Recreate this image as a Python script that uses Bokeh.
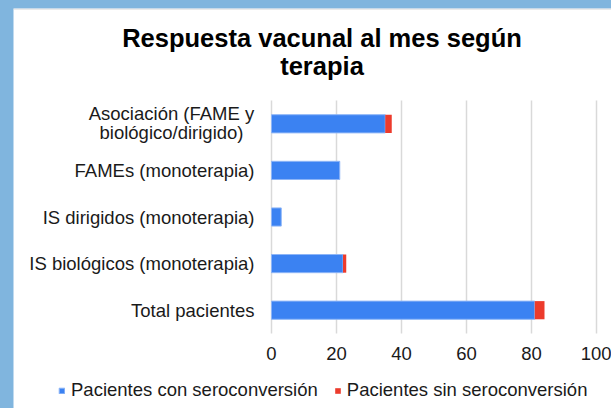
from bokeh.plotting import figure
from bokeh.models import ColumnDataSource, Range1d, FixedTicker, Legend, LegendItem, Label, Span
from bokeh.embed import file_html
from bokeh.resources import INLINE

# ---- data ----
categories = [
    "Total pacientes",
    "IS biológicos (monoterapia)",
    "IS dirigidos (monoterapia)",
    "FAMEs (monoterapia)",
    "Asociación (FAME y biológico/dirigido)",
]
wrapped_label = ["Asociación (FAME y", "biológico/dirigido)"]
con_seroconversion = [81, 22, 3, 21, 35]
sin_seroconversion = [3, 1, 0, 0, 2]
x_ticks = [0, 20, 40, 60, 80, 100]
title_lines = ["Respuesta vacunal al mes según", "terapia"]
series_names = ["Pacientes con seroconversión", "Pacientes sin seroconversión"]

# ---- style / layout constants (page pixels) ----
FONT = "Liberation Sans"
BLUE = "#3B82F2"
RED = "#EC3B2C"
GRID = "#D9D9D9"
TXT = "#1A1A1A"
FRAME_BLUE = "#80B5DE"
PAGE_LEFT, PAGE_TOP = 13, 8
W, H = 611 - PAGE_LEFT, 408 - PAGE_TOP
X0_PX, X_SCALE = 271.0, 3.25       # page x of value 0, px per unit
YTOP_PX, Y_SCALE = 100.0, 46.6     # page y of top band edge, px per category


def to_x(px):
    return (px - X0_PX) / X_SCALE


def to_y(py):
    return (len(categories) - 0.5) - (py - YTOP_PX) / Y_SCALE


idx = list(range(len(categories)))
src = ColumnDataSource(dict(
    y=idx,
    con=con_seroconversion,
    total=[a + b for a, b in zip(con_seroconversion, sin_seroconversion)],
))

p = figure(width=W, height=H, margin=(PAGE_TOP, 0, 0, PAGE_LEFT),
           x_range=Range1d(to_x(PAGE_LEFT), to_x(611)),
           y_range=Range1d(to_y(408), to_y(PAGE_TOP)),
           output_backend="svg", toolbar_location=None,
           min_border_left=0, min_border_right=0,
           min_border_top=0, min_border_bottom=0)
p.outline_line_color = None
p.background_fill_color = "white"
p.border_fill_color = "white"
p.xgrid.visible = False
p.ygrid.visible = False

# top shadow line of the chart area
p.add_layout(Span(location=to_y(PAGE_TOP + 0.5), dimension="width",
                  line_color="#D6D6D6", line_width=1))

# vertical gridlines over the category band
p.segment(x0=x_ticks, x1=x_ticks, y0=-0.5, y1=len(categories) - 0.5,
          line_color=GRID, line_width=1.5)

r_con = p.hbar(y="y", left=0, right="con", height=0.39, source=src,
               fill_color=BLUE, line_color="#8DB5F7", line_width=1)
r_sin = p.hbar(y="y", left="con", right="total", height=0.39, source=src,
               fill_color=RED, line_color=None)

# x axis (fixed at bottom of the category band)
p.xaxis.fixed_location = -0.5
p.xaxis.ticker = FixedTicker(ticks=x_ticks)
p.xaxis.axis_line_color = None
p.xaxis.major_tick_line_color = None
p.xaxis.minor_tick_line_color = None
p.xaxis.major_tick_out = 0
p.xaxis.major_tick_in = 0
p.xaxis.major_label_text_font = FONT
p.xaxis.major_label_text_font_size = "18.5px"
p.xaxis.major_label_text_color = TXT
p.xaxis.major_label_standoff = 13

# y axis (fixed at value 0)
p.yaxis.fixed_location = 0
p.yaxis.ticker = FixedTicker(ticks=idx)
overrides = {i: c for i, c in enumerate(categories)}
overrides[len(categories) - 1] = ""
p.yaxis.major_label_overrides = overrides
p.yaxis.axis_line_color = None
p.yaxis.major_tick_line_color = None
p.yaxis.minor_tick_line_color = None
p.yaxis.major_tick_out = 0
p.yaxis.major_tick_in = 0
p.yaxis.major_label_text_font = FONT
p.yaxis.major_label_text_font_size = "18.5px"
p.yaxis.major_label_text_color = TXT
p.yaxis.major_label_standoff = 17

# wrapped category label (lines centred on each other)
for line, py in zip(wrapped_label, [113, 132]):
    p.add_layout(Label(x=to_x(171), y=to_y(py), text=line, text_align="center",
                       text_baseline="middle", text_font=FONT,
                       text_font_size="18.5px", text_color=TXT))

# title
for line, py in zip(title_lines, [37.5, 65.5]):
    p.add_layout(Label(x=to_x(321.5), y=to_y(py), text=line, text_align="center",
                       text_baseline="middle", text_font=FONT,
                       text_font_size="25.5px", text_font_style="bold",
                       text_color="#000000"))

legend = Legend(items=[LegendItem(label=series_names[0], renderers=[r_con]),
                       LegendItem(label=series_names[1], renderers=[r_sin])],
                orientation="horizontal", location=(58 - PAGE_LEFT, 7),
                glyph_width=7, glyph_height=7, label_standoff=6, spacing=16,
                padding=0, margin=0, border_line_color=None,
                background_fill_alpha=0, label_text_font=FONT,
                label_text_font_size="18.5px", label_text_color=TXT,
                label_height=20)
p.add_layout(legend)

html = file_html(p, INLINE)
html = html.replace("</head>", "<style>html, body { background-color: %s; }</style></head>" % FRAME_BLUE, 1)
open("out.html", "w").write(html)
